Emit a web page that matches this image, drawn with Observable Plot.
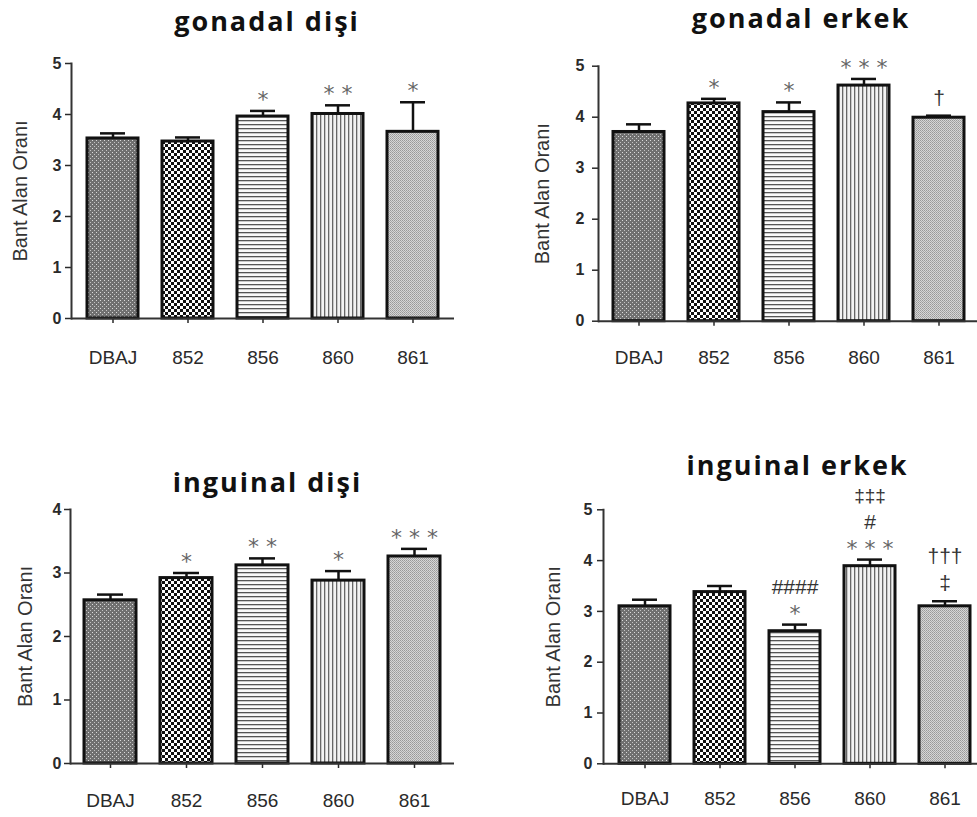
<!DOCTYPE html>
<html><head><meta charset="utf-8">
<script src="https://cdn.jsdelivr.net/npm/d3@7"></script>
<script src="https://cdn.jsdelivr.net/npm/@observablehq/plot@0.6"></script>
<style>
html,body{margin:0;padding:0;background:#fff;overflow:hidden}
#root{position:relative;width:977px;height:817px;overflow:hidden;background:#fff}
.panel{position:absolute}
#titles{position:absolute;left:0;top:0;pointer-events:none}
</style></head><body>
<svg width="0" height="0" style="position:absolute">
<defs>
<pattern id="pat0" width="4" height="4" patternUnits="userSpaceOnUse"><rect width="4" height="4" fill="#707070"/><rect x="0" y="0" width="1" height="1" fill="#dcdcdc"/><rect x="2" y="2" width="1" height="1" fill="#c4c4c4"/></pattern>
<pattern id="pat1" width="6" height="6" patternUnits="userSpaceOnUse"><rect width="6" height="6" fill="#111"/><rect x="0" y="0" width="3" height="3" fill="#fff"/><rect x="3" y="3" width="3" height="3" fill="#fff"/></pattern>
<pattern id="pat2" width="4" height="4" patternUnits="userSpaceOnUse"><rect width="4" height="4" fill="#fafafa"/><rect x="0" y="0" width="4" height="1.3" fill="#555"/></pattern>
<pattern id="pat3" width="4" height="4" patternUnits="userSpaceOnUse"><rect width="4" height="4" fill="#f2f2f2"/><rect x="0" y="0" width="1.3" height="4" fill="#666"/></pattern>
<pattern id="pat4" width="2" height="2" patternUnits="userSpaceOnUse"><rect width="2" height="2" fill="#d6d6d6"/><rect x="0" y="0" width="1" height="1" fill="#999"/><rect x="1" y="1" width="1" height="1" fill="#a8a8a8"/></pattern>
</defs></svg>
<div id="root"></div>
<script>
const categories = ["DBAJ", "852", "856", "860", "861"];
const yLabel = "Bant Alan Oranı";

const titleGonadalDisi = "gonadal dişi";
const gonadalDisiMean = [3.53, 3.47, 3.96, 4.01, 3.66];
const gonadalDisiErr  = [0.10, 0.08, 0.11, 0.17, 0.58];
const gonadalDisiNotes = ["", "", "*", "**", "*"];

const titleGonadalErkek = "gonadal erkek";
const gonadalErkekMean = [3.71, 4.27, 4.10, 4.62, 3.99];
const gonadalErkekErr  = [0.15, 0.09, 0.19, 0.13, 0.04];
const gonadalErkekNotes = ["", "*", "*", "***", "†"];

const titleInguinalDisi = "inguinal dişi";
const inguinalDisiMean = [2.57, 2.92, 3.12, 2.88, 3.26];
const inguinalDisiErr  = [0.09, 0.08, 0.11, 0.15, 0.12];
const inguinalDisiNotes = ["", "*", "**", "*", "***"];

const titleInguinalErkek = "inguinal erkek";
const inguinalErkekMean = [3.10, 3.38, 2.61, 3.89, 3.10];
const inguinalErkekErr  = [0.13, 0.12, 0.13, 0.13, 0.10];
const inguinalErkekNotes = ["", "", "####\n*", "‡‡‡\n#\n***", "†††\n‡"];

const root = document.getElementById("root");

function panel(o) {
  const data = categories.map((c, i) => ({cat: c, value: o.mean[i], hi: o.mean[i] + o.err[i], pat: `url(#pat${i})`}));
  const noteMarks = [];
  categories.forEach((c, i) => {
    if (!o.notes[i]) return;
    const lines = o.notes[i].split("\n").reverse();
    const base = lines[0].includes("*") ? 4 : 11;
    lines.forEach((t, k) => {
      const star = t.includes("*");
      noteMarks.push(Plot.text([{cat: c, y: data[i].hi, t: star ? t.split("").join(" ") : t}], {
        x: "cat", y: "y", text: "t", lineAnchor: "bottom", dy: -(base + k * 27),
        fontSize: star ? 22 : (k >= 2 ? 19 : 21), fontFamily: star ? "DejaVu Sans" : "Liberation Sans, Arial",
        fill: star ? "#666" : "#333"
      }));
    });
  });
  const svg = Plot.plot({
    width: o.width, height: o.height,
    marginLeft: o.mL, marginRight: o.mR, marginTop: o.mT, marginBottom: o.mB,
    style: {background: "transparent", fontFamily: "Liberation Sans, Arial, sans-serif", color: "#2a2a2a"},
    x: {domain: categories, paddingInner: 0.315, paddingOuter: 0.18, label: null},
    y: {domain: [0, o.yMax], label: null},
    marks: [
      ...data.map(d => Plot.barY([d], {x: "cat", y: "value", fill: d.pat, stroke: "#111", strokeWidth: 3})),
      Plot.ruleX(data, {x: "cat", y1: "value", y2: "hi", stroke: "#111", strokeWidth: 2.5}),
      Plot.tickY(data, {x: "cat", y: "hi", stroke: "#111", strokeWidth: 2.5, insetLeft: 13, insetRight: 13}),
      Plot.axisY({ticks: o.yMax, tickSize: 6, tickPadding: o.yTp, fontSize: 16, fontWeight: "bold", fontFamily: "Liberation Sans Narrow, Arial Narrow, Liberation Sans, sans-serif", label: null, strokeWidth: 1.5}),
      Plot.axisX({tickSize: 5, tickPadding: o.xTp, fontSize: 19, label: null, strokeWidth: 1.5}),
      Plot.ruleY([0], {stroke: "#333", strokeWidth: 2}),
      Plot.frame({anchor: "left", stroke: "#333", strokeWidth: 2}),
      Plot.text([yLabel], {frameAnchor: "left", textAnchor: "middle", dx: -o.labelOff, rotate: -90, fontSize: 20, fill: "#333"}),
      ...noteMarks
    ]
  });
  svg.classList.add("panel");
  svg.style.left = o.left + "px";
  svg.style.top = o.top + "px";
  root.appendChild(svg);
}

panel({mean: gonadalDisiMean, err: gonadalDisiErr, notes: gonadalDisiNotes, yMax: 5,
  left: 0, top: 0, width: 470, height: 380, mL: 71, mR: 16, mT: 63, mB: 62, xTp: 27, yTp: 4, labelOff: 51});
panel({mean: gonadalErkekMean, err: gonadalErkekErr, notes: gonadalErkekNotes, yMax: 5,
  left: 490, top: 0, width: 490, height: 380, mL: 108, mR: 0, mT: 65.7, mB: 59.3, xTp: 24.5, yTp: 8, labelOff: 56});
panel({mean: inguinalDisiMean, err: inguinalDisiErr, notes: inguinalDisiNotes, yMax: 4,
  left: 0, top: 440, width: 470, height: 390, mL: 70, mR: 16, mT: 69, mB: 67, xTp: 25, yTp: 3, labelOff: 45});
panel({mean: inguinalErkekMean, err: inguinalErkekErr, notes: inguinalErkekNotes, yMax: 5,
  left: 490, top: 440, width: 496, height: 390, mL: 113, mR: 0, mT: 69.3, mB: 66.7, xTp: 23, yTp: 5, labelOff: 50});

const titles = [
  {t: titleGonadalDisi, x: 267, y: 31},
  {t: titleGonadalErkek, x: 801, y: 28},
  {t: titleInguinalDisi, x: 267.5, y: 492},
  {t: titleInguinalErkek, x: 797.5, y: 475}
];
const ts = d3.select(root).append("svg").attr("id", "titles").attr("width", 977).attr("height", 817);
ts.selectAll("text").data(titles).join("text")
  .attr("x", d => d.x).attr("y", d => d.y)
  .attr("text-anchor", "middle")
  .attr("font-family", "Open Sans, sans-serif").attr("font-weight", 700)
  .attr("font-size", 27).attr("letter-spacing", "2px").attr("fill", "#111")
  .text(d => d.t);
</script>
</body></html>
